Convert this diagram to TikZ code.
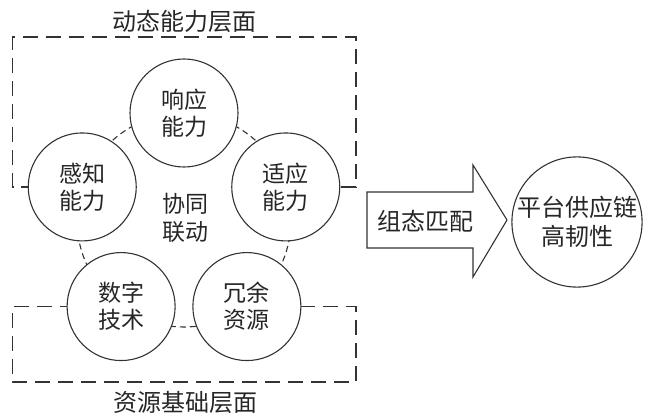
\documentclass[tikz,border=0pt]{standalone}
\usepackage{fontspec}
\setmainfont{Noto Sans CJK SC}
\usetikzlibrary{calc}
\begin{document}
\begin{tikzpicture}[x=1pt,y=-1pt,
  lbl/.style={font=\fontsize{24}{29}\selectfont, text=black!85, align=center, inner sep=0pt},
  capcircle/.style={circle, draw=black!80, line width=1.1pt, fill=white, minimum size=108pt, inner sep=0pt,
              font=\fontsize{23}{27}\selectfont, text=black!85, align=center},
  boxline/.style={draw=black!80, line width=1.7pt, dash pattern=on 15pt off 8pt},
  ringline/.style={draw=black!80, line width=1.1pt, dash pattern=on 6pt off 4pt}]
\useasboundingbox (0,0) rectangle (648,414);
\coordinate (ctr) at (184,220);
% dashed ring linking the five circles
\draw[ringline] (ctr) circle[radius=107pt];
% positions on the ring (y axis points down)
\coordinate (pResp)  at ($(ctr)+(0,-107)$);
\coordinate (pSense) at ($(ctr)+(-101.76,-33.06)$);
\coordinate (pAdapt) at ($(ctr)+(101.76,-33.06)$);
\coordinate (pDig)   at ($(ctr)+(-62.89,86.56)$);
\coordinate (pRed)   at ($(ctr)+(62.89,86.56)$);
% layer boxes
\draw[boxline] (pSense) -| (12.5,37) -| (356,37) |- (pAdapt);
\draw[boxline] (pDig) -| (12.5,382) -| (356,382) |- (pRed);
% circles
\node[capcircle] (resp)  at (pResp)  {响应\\能力};
\node[capcircle] (sense) at (pSense) {感知\\能力};
\node[capcircle] (adapt) at (pAdapt) {适应\\能力};
\node[capcircle] (dig)   at (pDig)   {数字\\技术};
\node[capcircle] (red)   at (pRed)   {冗余\\资源};
\node[lbl, font=\fontsize{23}{28}\selectfont] (coop) at (185,218) {协同\\联动};
% titles
\node[lbl] (top) at (184,21) {动态能力层面};
\node[lbl] (bot) at (185,402) {资源基础层面};
% big arrow
\draw[draw=black!80, line width=1.1pt, fill=white]
  (367,192) -- (473,192) -- (473,165) -- (507,220) -- (473,277) -- (473,248) -- (367,248) -- cycle;
\node[lbl] (match) at (425,221) {组态匹配};
% result circle
\node[circle, draw=black!80, line width=1.1pt, minimum size=128pt, inner sep=0pt,
      font=\fontsize{24}{29}\selectfont, text=black!85, align=center] (res) at (577,222) {平台供应链\\高韧性};
\end{tikzpicture}
\end{document}
